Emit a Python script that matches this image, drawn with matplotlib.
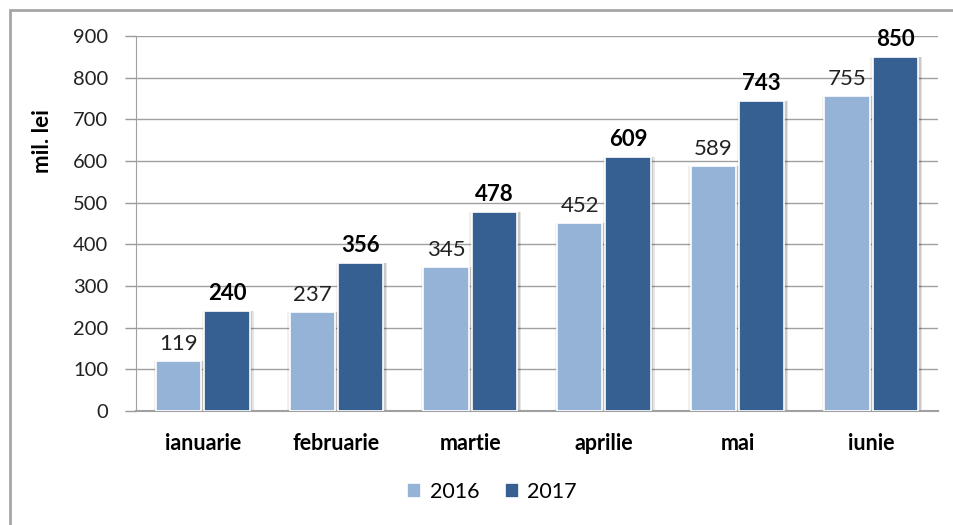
import matplotlib
matplotlib.use("Agg")
import matplotlib.pyplot as plt
import numpy as np
from matplotlib.patches import Rectangle

plt.rcParams['font.family'] = ['Lato', 'DejaVu Sans']

categories = ["ianuarie", "februarie", "martie", "aprilie", "mai", "iunie"]
series_names = ["2016", "2017"]
values_2016 = [119, 237, 345, 452, 589, 755]
values_2017 = [240, 356, 478, 609, 743, 850]
yticks = [0, 100, 200, 300, 400, 500, 600, 700, 800, 900]

c2016 = "#95B3D7"
c2017 = "#376092"

fig = plt.figure(figsize=(9.54, 5.25), dpi=100)
ax = fig.add_axes([136/954, 1-411/525, (938-136)/954, (411-36)/525])

x = np.arange(len(categories))
w = 0.34
off = 0.18
xs1 = x - off
xs2 = x + off

# soft shadows
for dx, a in [(0.025, 0.10), (0.015, 0.12), (-0.012, 0.06)]:
    ax.bar(xs1 + dx, values_2016, w + 0.01, color="black", alpha=a, zorder=2, linewidth=0)
    ax.bar(xs2 + dx, values_2017, w + 0.01, color="black", alpha=a, zorder=2, linewidth=0)

b1 = ax.bar(xs1, values_2016, w, color=c2016, edgecolor="white", linewidth=1.2, zorder=3, label=series_names[0])
b2 = ax.bar(xs2, values_2017, w, color=c2017, edgecolor="white", linewidth=1.2, zorder=3, label=series_names[1])

for xi, v in zip(xs1, values_2016):
    ax.annotate(str(v), (xi, v), xytext=(0, 5), textcoords="offset points",
                ha="center", va="bottom", fontsize=16, color="#222222", zorder=4)
for xi, v in zip(xs2, values_2017):
    ax.annotate(str(v), (xi, v), xytext=(0, 5), textcoords="offset points",
                ha="center", va="bottom", fontsize=16, fontweight="bold", color="black", zorder=4)

ax.set_xlim(-0.5, len(categories) - 0.5)
ax.set_ylim(0, 900)
ax.set_yticks(yticks)
ax.set_yticklabels([str(t) for t in yticks], fontsize=14.5, color="#222222")
ax.set_xticks(x)
ax.set_xticklabels(categories, fontsize=15.5, fontweight="bold", color="black")
ax.tick_params(axis="x", length=0, pad=16)
ax.tick_params(axis="y", length=8, width=1, color="#999999", pad=12)
ax.yaxis.grid(True, color="#a0a0a0", linewidth=1, zorder=0)
ax.set_axisbelow(True)
for s in ["top", "right"]:
    ax.spines[s].set_visible(False)
ax.spines["left"].set_color("#a0a0a0")
ax.spines["bottom"].set_color("#a0a0a0")
ax.spines["bottom"].set_linewidth(1.5)

ax.set_ylabel("mil. lei", fontsize=16, fontweight="bold")
ax.yaxis.set_label_coords(-0.103, 0.72)

fig.legend(handles=[b1, b2], labels=series_names, loc="center",
           bbox_to_anchor=(492/954, 1-492/525), ncol=2, frameon=False,
           fontsize=15.5, handlelength=0.65, handleheight=0.65, handletextpad=0.4,
           columnspacing=1.2)

fig.patches.append(Rectangle((10/954, -0.05), 1.0, 1 - 10/525 + 0.05,
                             transform=fig.transFigure, fill=False,
                             edgecolor="#a6a6a6", linewidth=2))

fig.savefig("out.png", dpi=100)
